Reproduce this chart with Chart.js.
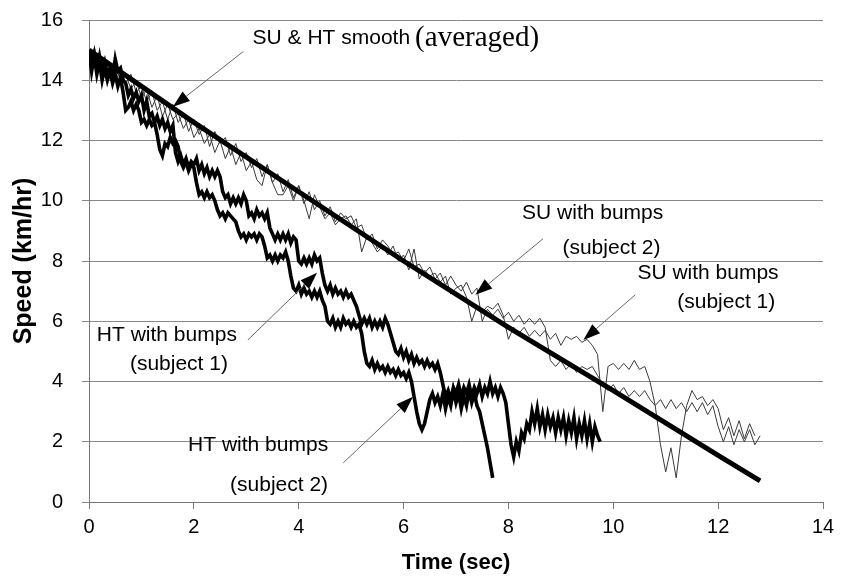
<!DOCTYPE html>
<html>
<head>
<meta charset="utf-8">
<script src="https://cdn.jsdelivr.net/npm/chart.js@4.4.1/dist/chart.umd.min.js"></script>
<style>
  html, body { margin: 0; padding: 0; background: #fff; }
</style>
</head>
<body>
<canvas id="speedChart" width="841" height="580"></canvas>
<script>
// --- data ---------------------------------------------------------------
const smoothTime = [0, 2, 4, 6, 8, 10, 12, 12.8];
const smoothSpeed = [15.0, 12.6, 10.3, 8.0, 5.8, 3.7, 1.55, 0.7];

// HT samples every 0.05 s
const htTime = [
  0.00, 0.05, 0.10, 0.15, 0.20, 0.25, 0.30, 0.35, 0.40, 0.45,
  0.50, 0.55, 0.60, 0.65, 0.70, 0.75, 0.80, 0.85, 0.90, 0.95,
  1.00, 1.05, 1.10, 1.15, 1.20, 1.25, 1.30, 1.35, 1.40, 1.45,
  1.50, 1.55, 1.60, 1.65, 1.70, 1.75, 1.80, 1.85, 1.90, 1.95,
  2.00, 2.05, 2.10, 2.15, 2.20, 2.25, 2.30, 2.35, 2.40, 2.45,
  2.50, 2.55, 2.60, 2.65, 2.70, 2.75, 2.80, 2.85, 2.90, 2.95,
  3.00, 3.05, 3.10, 3.15, 3.20, 3.25, 3.30, 3.35, 3.40, 3.45,
  3.50, 3.55, 3.60, 3.65, 3.70, 3.75, 3.80, 3.85, 3.90, 3.95,
  4.00, 4.05, 4.10, 4.15, 4.20, 4.25, 4.30, 4.35, 4.40, 4.45,
  4.50, 4.55, 4.60, 4.65, 4.70, 4.75, 4.80, 4.85, 4.90, 4.95,
  5.00, 5.05, 5.10, 5.15, 5.20, 5.25, 5.30, 5.35, 5.40, 5.45,
  5.50, 5.55, 5.60, 5.65, 5.70, 5.75, 5.80, 5.85, 5.90, 5.95,
  6.00, 6.05, 6.10, 6.15, 6.20, 6.25, 6.30, 6.35, 6.40, 6.45,
  6.50, 6.55, 6.60, 6.65, 6.70, 6.75, 6.80, 6.85, 6.90, 6.95,
  7.00, 7.05, 7.10, 7.15, 7.20, 7.25, 7.30, 7.35, 7.40, 7.45,
  7.50, 7.55, 7.60, 7.65, 7.70, 7.75, 7.80, 7.85, 7.90, 7.95,
  8.00, 8.05, 8.10, 8.15, 8.20, 8.25, 8.30, 8.35, 8.40, 8.45,
  8.50, 8.55, 8.60, 8.65, 8.70, 8.75, 8.80, 8.85, 8.90, 8.95,
  9.00, 9.05, 9.10, 9.15, 9.20, 9.25, 9.30, 9.35, 9.40, 9.45,
  9.50, 9.55, 9.60, 9.65, 9.70, 9.75
];
const htOneSpeed = [
  15.0, 14.6, 14.9, 14.4, 14.8, 14.3, 14.6, 14.2, 14.4, 14.1,
  14.7, 14.3, 14.4, 14.0, 13.9, 13.5, 13.7, 13.4, 13.6, 13.3,
  13.5, 13.0, 13.3, 12.8, 12.9, 12.6, 12.8, 12.5, 12.7, 12.4,
  12.6, 12.3, 12.5, 11.6, 11.3, 11.5, 11.2, 11.4, 11.1, 11.3,
  11.2, 11.4, 11.0, 11.2, 10.9, 11.1, 10.8, 11.0, 10.8, 11.0,
  10.8, 10.3, 10.1, 10.2, 9.9, 10.1, 9.9, 10.1, 9.9, 10.2,
  10.0, 9.5, 9.6, 9.4, 9.7, 9.5, 9.6, 9.4, 9.6, 9.1,
  8.9, 8.7, 8.9, 8.7, 8.9, 8.7, 8.9, 8.6, 8.8, 8.7,
  8.0, 7.9, 8.1, 7.9, 8.1, 7.9, 8.2, 8.0, 8.1, 7.6,
  7.2, 7.0, 7.2, 6.9, 7.1, 6.9, 7.0, 6.8, 7.0, 6.8,
  6.9, 6.7, 6.5, 6.2, 5.9, 6.1, 5.9, 6.1, 5.8, 6.0,
  5.8, 6.0, 5.8, 6.1, 5.9, 5.6, 5.3, 5.0, 4.9, 5.1,
  4.8, 5.0, 4.7, 4.9, 4.6, 4.8, 4.6, 4.7, 4.5, 4.7,
  4.5, 4.6, 4.4, 4.6, 4.3, 3.9, 3.5, 3.7, 3.4, 3.8,
  3.6, 3.9, 3.5, 3.8, 3.6, 3.9, 3.5, 3.8, 3.6, 3.9,
  3.5, 3.8, 3.6, 4.0, 3.6, 3.8, 3.5, 3.8, 3.6, 3.3,
  2.6, 1.9, 1.5, 2.0, 1.7, 2.3, 2.1, 2.6, 2.4, 3.0,
  2.6, 3.1, 2.5, 2.9, 2.4, 2.9, 2.5, 2.8, 2.3, 2.8,
  2.4, 2.8, 2.2, 2.7, 2.3, 2.8, 2.1, 2.6, 2.2, 2.7,
  2.1, 2.6, 2.0, 2.5, 2.2, 2.0
];
const htTwoSpeed = [
  15.0, 14.3, 14.8, 14.2, 14.6, 14.0, 14.4, 14.0, 14.3, 13.9,
  14.2, 13.8, 14.1, 13.6, 13.0, 13.1, 13.3, 13.0, 13.2, 13.0,
  12.6, 12.7, 12.5, 12.7, 12.5, 12.6, 12.2, 11.7, 11.5, 11.9,
  11.8, 12.1, 11.9, 12.0, 11.8, 11.3, 11.1, 11.3, 11.0, 11.2,
  11.1, 10.6, 10.2, 10.3, 10.1, 10.3, 10.1, 10.2, 10.0, 9.7,
  9.5, 9.6, 9.4, 9.6, 9.5, 9.4, 9.3, 9.0, 8.8, 8.9,
  8.7, 8.9, 8.8, 8.9, 8.7, 8.9, 8.8, 8.5, 8.1, 8.2,
  8.0, 8.2, 8.0, 8.2, 8.1, 8.3, 8.0, 7.5, 7.1, 7.0,
  7.2, 6.9, 7.1, 6.9, 7.0, 6.8, 7.0, 6.8, 7.0, 6.7,
  6.5, 6.0, 5.9, 6.1, 5.8, 6.0, 5.8, 6.1, 5.9, 6.0,
  5.8, 6.0, 5.8, 5.9, 5.6, 5.0, 4.6, 4.5, 4.7, 4.4,
  4.6, 4.4, 4.5, 4.3, 4.5, 4.3, 4.4, 4.2, 4.4, 4.2,
  4.3, 4.1, 4.3, 4.0, 3.5, 3.0, 2.6, 2.4, 2.6, 3.0,
  3.4, 3.6, 3.3, 3.5, 3.2, 3.6, 3.1, 3.5, 3.2, 3.7,
  3.3, 3.6, 3.1, 3.5, 3.2, 3.7, 3.3, 3.6, 3.2, 3.0,
  2.6, 2.2, 1.8, 1.3, 0.8
];

// SU samples every 0.1 s
const suTime = [
  0.0, 0.1, 0.2, 0.3, 0.4, 0.5, 0.6, 0.7, 0.8, 0.9,
  1.0, 1.1, 1.2, 1.3, 1.4, 1.5, 1.6, 1.7, 1.8, 1.9,
  2.0, 2.1, 2.2, 2.3, 2.4, 2.5, 2.6, 2.7, 2.8, 2.9,
  3.0, 3.1, 3.2, 3.3, 3.4, 3.5, 3.6, 3.7, 3.8, 3.9,
  4.0, 4.1, 4.2, 4.3, 4.4, 4.5, 4.6, 4.7, 4.8, 4.9,
  5.0, 5.1, 5.2, 5.3, 5.4, 5.5, 5.6, 5.7, 5.8, 5.9,
  6.0, 6.1, 6.2, 6.3, 6.4, 6.5, 6.6, 6.7, 6.8, 6.9,
  7.0, 7.1, 7.2, 7.3, 7.4, 7.5, 7.6, 7.7, 7.8, 7.9,
  8.0, 8.1, 8.2, 8.3, 8.4, 8.5, 8.6, 8.7, 8.8, 8.9,
  9.0, 9.1, 9.2, 9.3, 9.4, 9.5, 9.6, 9.7, 9.8, 9.9,
  10.0, 10.1, 10.2, 10.3, 10.4, 10.5, 10.6, 10.7, 10.8, 10.9,
  11.0, 11.1, 11.2, 11.3, 11.4, 11.5, 11.6, 11.7, 11.8, 11.9,
  12.0, 12.1, 12.2, 12.3, 12.4, 12.5, 12.6, 12.7, 12.8
];
const suOneSpeed = [
  15.0, 14.8, 14.4, 14.7, 14.2, 14.5, 14.0, 14.2, 13.7, 14.0,
  13.4, 13.7, 13.1, 13.5, 12.8, 13.2, 12.7, 12.9, 12.4, 12.7,
  12.1, 12.4, 11.9, 12.2, 11.6, 12.0, 11.4, 11.8, 11.2, 11.6,
  11.0, 11.3, 10.7, 10.5, 11.2, 10.6, 10.2, 10.2, 10.5, 10.0,
  10.5, 10.0, 9.4, 10.2, 9.8, 9.4, 9.6, 9.2, 9.4, 9.5,
  9.2, 9.4, 8.3, 8.8, 8.6, 8.3, 8.5, 8.2, 8.5, 8.0,
  8.2, 7.7, 8.4, 7.4, 7.7, 7.5, 7.6, 7.3, 7.5, 6.9,
  7.1, 7.2, 6.8, 6.0, 6.5, 6.3, 6.5, 6.4, 6.6, 6.2,
  5.4, 5.8, 5.6, 5.8, 5.5, 5.7, 5.5, 5.7, 5.4, 5.6,
  5.2, 5.5, 5.4, 5.5, 5.3, 5.4, 5.2, 4.9, 3.0, 4.5,
  4.6, 4.4, 4.6, 4.4, 4.7, 4.4, 4.5, 4.0, 3.2, 1.9,
  1.0, 1.8, 0.8, 2.2, 3.2, 3.7, 3.4, 3.5, 3.2, 3.4,
  3.1, 2.4, 2.8, 2.2, 2.7, 2.1, 2.6, 2.2
];
const suTwoSpeed = [
  15.0, 14.6, 14.8, 14.3, 14.5, 14.0, 14.3, 13.9, 14.2, 13.6,
  13.8, 13.3, 13.6, 13.0, 13.3, 12.7, 13.2, 12.6, 12.9, 12.3,
  12.7, 12.2, 12.5, 11.8, 12.3, 11.9, 12.1, 11.5, 11.9, 11.3,
  11.6, 11.1, 11.4, 10.8, 11.2, 10.6, 10.9, 10.3, 10.7, 10.1,
  10.5, 9.9, 10.3, 9.7, 10.0, 9.5, 9.8, 9.3, 9.6, 9.4,
  9.5, 9.1, 9.2, 8.7, 8.9, 8.4, 8.7, 8.5, 8.2, 8.3,
  8.0, 8.4, 7.8, 7.9, 7.6, 7.8, 7.4, 7.6, 7.2, 7.5,
  7.2, 7.0, 7.3, 6.9, 7.1, 6.0, 6.4, 6.2, 6.4, 6.1,
  6.3, 6.0, 6.2, 5.9, 6.1, 5.9, 6.1, 5.8, 4.7, 4.5,
  4.7, 4.4, 4.6, 4.3, 4.5, 4.4, 4.5, 4.2, 3.9, 3.7,
  3.9, 3.6, 3.8, 3.5, 3.7, 3.5, 3.7, 3.4, 3.2, 3.4,
  3.1, 3.4, 3.1, 3.3, 3.0, 3.3, 3.0, 3.3, 2.9, 3.2,
  2.5, 2.0, 2.5, 1.9, 2.4, 2.0, 2.4, 1.9, 2.2
];

const xTicks = [0, 2, 4, 6, 8, 10, 12, 14];
const yTicks = [0, 2, 4, 6, 8, 10, 12, 14, 16];

// callouts, placed in data units
const labels = [
  { text: 'SU & HT smooth', x: 3.12, y: 15.38, serif: false },
  { text: '(averaged)', x: 6.22, y: 15.38, serif: true },
  { text: 'SU with bumps', x: 8.26, y: 9.6 },
  { text: '(subject 2)', x: 9.03, y: 8.44 },
  { text: 'SU with bumps', x: 10.46, y: 7.61 },
  { text: '(subject 1)', x: 11.22, y: 6.64 },
  { text: 'HT with bumps', x: 0.15, y: 5.55 },
  { text: '(subject 1)', x: 0.78, y: 4.58 },
  { text: 'HT with bumps', x: 1.89, y: 1.89 },
  { text: '(subject 2)', x: 2.69, y: 0.56 }
];
const arrows = [
  { from: [2.94, 14.95], to: [1.6, 13.12] },
  { from: [8.66, 8.74], to: [7.37, 6.88] },
  { from: [10.42, 6.88], to: [9.43, 5.38] },
  { from: [3.03, 5.38], to: [4.35, 7.61] },
  { from: [4.85, 1.3], to: [6.18, 3.49] }
];

const zip = (xs, ys) => ys.map((y, i) => ({ x: xs[i], y: y }));

const calloutPlugin = {
  id: 'callouts',
  afterDatasetsDraw(chart) {
    const { ctx, scales: { x, y } } = chart;
    ctx.save();
    arrows.forEach(a => {
      const x0 = x.getPixelForValue(a.from[0]), y0 = y.getPixelForValue(a.from[1]);
      const x1 = x.getPixelForValue(a.to[0]), y1 = y.getPixelForValue(a.to[1]);
      const ang = Math.atan2(y1 - y0, x1 - x0);
      const len = 17, half = 6;
      const bx = x1 - len * Math.cos(ang), by = y1 - len * Math.sin(ang);
      ctx.strokeStyle = '#666';
      ctx.lineWidth = 1;
      ctx.beginPath();
      ctx.moveTo(x0, y0);
      ctx.lineTo(bx, by);
      ctx.stroke();
      ctx.fillStyle = '#000';
      ctx.beginPath();
      ctx.moveTo(x1, y1);
      ctx.lineTo(bx + half * Math.sin(ang), by - half * Math.cos(ang));
      ctx.lineTo(bx - half * Math.sin(ang), by + half * Math.cos(ang));
      ctx.closePath();
      ctx.fill();
    });
    ctx.fillStyle = '#000';
    ctx.textBaseline = 'middle';
    ctx.textAlign = 'left';
    labels.forEach(l => {
      ctx.font = l.serif ? '29px "Liberation Serif", serif' : '21px "Liberation Sans", Arial, sans-serif';
      ctx.fillText(l.text, x.getPixelForValue(l.x), y.getPixelForValue(l.y));
    });
    ctx.restore();
  }
};

const lineSet = (label, data, width, color) => ({
  label, data, showLine: true, borderColor: color, borderWidth: width,
  pointRadius: 0, fill: false, tension: 0, borderJoinStyle: 'miter'
});

new Chart(document.getElementById('speedChart'), {
  type: 'scatter',
  data: {
    datasets: [
      lineSet('SU & HT smooth (averaged)', zip(smoothTime, smoothSpeed), 5, '#000'),
      lineSet('HT with bumps (subject 1)', zip(htTime, htOneSpeed), 3.6, '#000'),
      lineSet('HT with bumps (subject 2)', zip(htTime, htTwoSpeed), 3.6, '#000'),
      lineSet('SU with bumps (subject 1)', zip(suTime, suOneSpeed), 1, '#3a3a3a'),
      lineSet('SU with bumps (subject 2)', zip(suTime, suTwoSpeed), 1, '#3a3a3a')
    ]
  },
  options: {
    responsive: false,
    animation: false,
    layout: { padding: { left: 0, top: 20, right: 18, bottom: 0 } },
    plugins: { legend: { display: false }, tooltip: { enabled: false } },
    scales: {
      x: {
        type: 'linear', min: 0, max: 14,
        afterFit: s => { s.height = 78; },
        afterBuildTicks: s => { s.ticks = xTicks.map(v => ({ value: v })); },
        grid: { drawOnChartArea: false, drawTicks: true, tickLength: 7, color: '#777' },
        border: { display: true, color: '#777' },
        ticks: { color: '#000', padding: 6, font: { family: '"Liberation Sans", Arial', size: 20 } },
        title: {
          display: true, text: 'Time (sec)', color: '#000',
          padding: { top: 0, bottom: 4 },
          font: { family: '"Liberation Sans", Arial', size: 22, weight: 'bold' }
        }
      },
      y: {
        type: 'linear', min: 0, max: 16,
        // fixed width and no extra label padding so the plot spans 20..502 px
        afterFit: s => { s.width = 89; s.paddingTop = 0; s.paddingBottom = 0; },
        afterBuildTicks: s => { s.ticks = yTicks.map(v => ({ value: v })); },
        grid: { drawOnChartArea: true, drawTicks: true, tickLength: 7, color: '#888' },
        border: { display: true, color: '#777' },
        ticks: { color: '#000', padding: 19, font: { family: '"Liberation Sans", Arial', size: 20 } },
        title: {
          display: true, text: 'Speed (km/hr)', color: '#000',
          padding: { top: 9, bottom: 0 },
          font: { family: '"Liberation Sans", Arial', size: 25, weight: 'bold' }
        }
      }
    }
  },
  plugins: [calloutPlugin]
});
</script>
</body>
</html>
